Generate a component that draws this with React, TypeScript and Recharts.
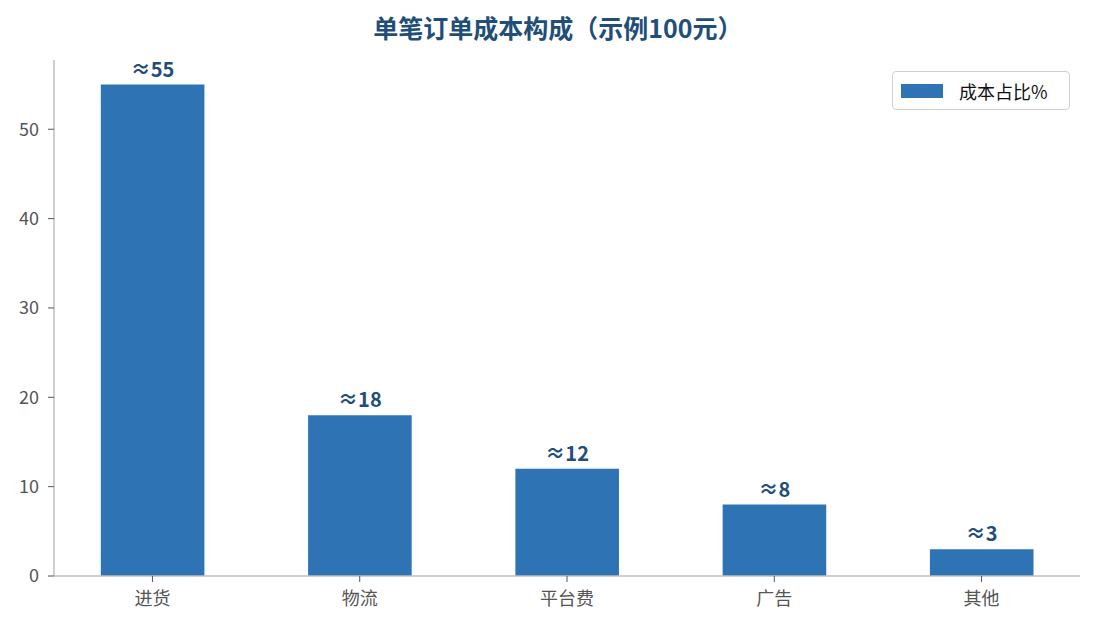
import { Bar, BarChart, LabelList, XAxis, YAxis } from "recharts";

const categories = ["进货", "物流", "平台费", "广告", "其他"];
const shares = [55, 18, 12, 8, 3];
const yTicks = [0, 10, 20, 30, 40, 50];
const xTicks = [0, 1, 2, 3, 4];

const chartData = categories.map((name, i) => ({ idx: i, name, share: shares[i] }));

const font = '"Noto Sans CJK SC", "Noto Sans", sans-serif';
const barColor = "#2e74b5";
const titleColor = "#1f4e79";

function LegendBox() {
  return (
    <div
      style={{
        position: "absolute",
        top: 71,
        left: 892,
        width: 178,
        height: 39,
        boxSizing: "border-box",
        display: "flex",
        alignItems: "center",
        border: "1px solid #d0d0d0",
        borderRadius: 4,
        background: "#fff",
        paddingLeft: 8,
        fontFamily: font,
        fontSize: 18,
        color: "#111",
      }}
    >
      <span style={{ display: "inline-block", width: 42, height: 14, background: barColor, marginRight: 16 }} />
      成本占比%
    </div>
  );
}

export default function App() {
  return (
    <div style={{ position: "absolute", left: 0, top: 0, width: 1095, height: 629, background: "#fff" }}>
      <div
        style={{
          position: "absolute",
          top: 9,
          left: 0,
          width: 1116,
          textAlign: "center",
          fontFamily: font,
          fontSize: 25,
          lineHeight: "36px",
          fontWeight: 700,
          color: titleColor,
        }}
      >
        单笔订单成本构成（示例100元）
      </div>
      <BarChart
        width={1095}
        height={629}
        data={chartData}
        margin={{ top: 60, right: 15, left: 0, bottom: 0 }}
        barSize={103.6}
        style={{ fontFamily: font }}
      >
        <XAxis
          dataKey="idx"
          type="number"
          domain={[-0.475, 4.475]}
          ticks={xTicks}
          tickFormatter={(i: number) => categories[i] ?? ""}
          allowDataOverflow
          axisLine={{ stroke: "#bfbfbf", strokeWidth: 1.5 }}
          tickLine={{ stroke: "#555" }}
          tickSize={6}
          tickMargin={10}
          tick={{ fill: "#555", fontSize: 18 }}
          height={53}
        />
        <YAxis
          domain={[0, 57.75]}
          ticks={yTicks}
          width={54}
          axisLine={{ stroke: "#bfbfbf", strokeWidth: 1.5 }}
          tickLine={{ stroke: "#555" }}
          tickSize={6}
          tickMargin={9}
          tick={{ fill: "#555", fontSize: 18 }}
        />
        <Bar dataKey="share" name="成本占比%" fill={barColor} isAnimationActive={false}>
          <LabelList
            dataKey="share"
            position="top"
            offset={8}
            formatter={(v: number) => `≈${v}`}
            style={{ fill: titleColor, fontSize: 20, fontWeight: 700, fontFamily: font }}
          />
        </Bar>
      </BarChart>
      <LegendBox />
    </div>
  );
}
